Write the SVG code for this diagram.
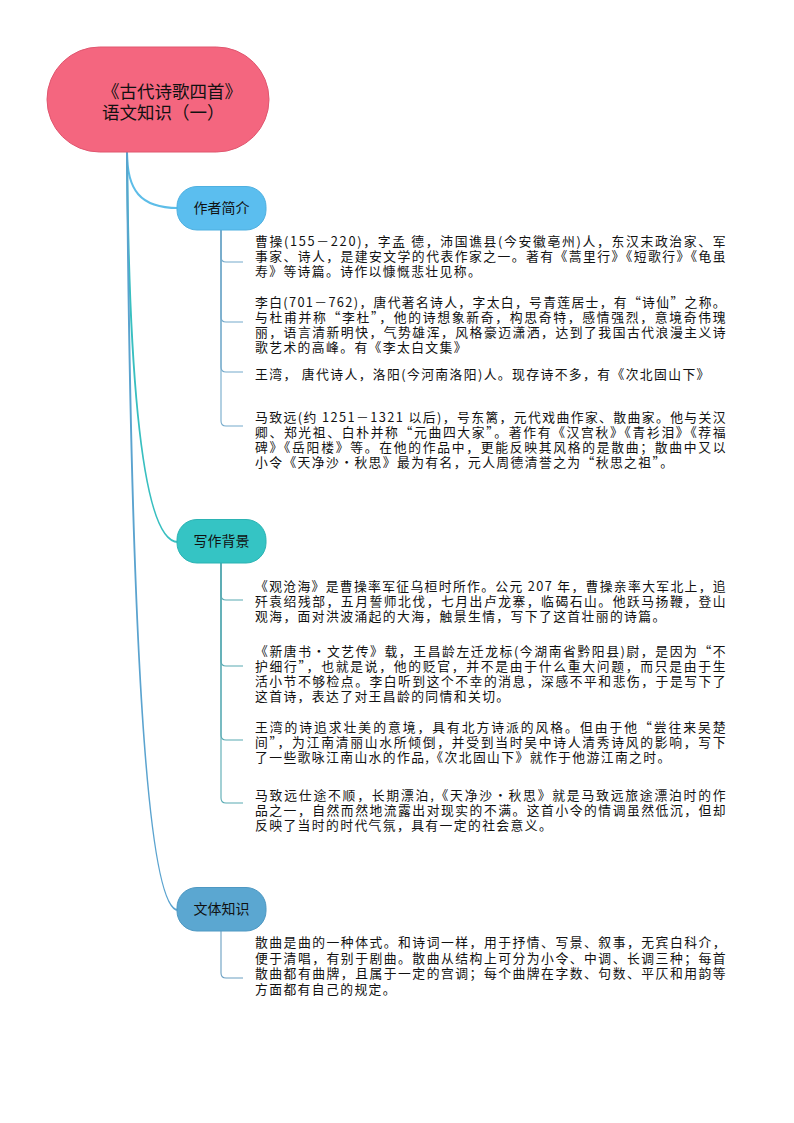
<svg xmlns="http://www.w3.org/2000/svg" width="794" height="1123" viewBox="0 0 794 1123">
<style>
.bg{fill:#ffffff}
.t{font-family:"Noto Sans CJK SC","Noto Sans",sans-serif;fill:#111111}
.root{font-size:17.5px}
.br{font-size:14px;text-anchor:middle}
.c{font-size:12.8px;letter-spacing:1.4px}
.main{fill:none;stroke-width:2;stroke-linecap:round}
.sub{fill:none;stroke-width:1.1}
</style>
<rect class="bg" x="0" y="0" width="794" height="1123"/>
<g id="connectors">
  <path class="main" stroke="#5DBDE8" d="M127,152 C127,190 140,208 178,208"/>
  <path class="main" stroke="#38BFC0" d="M127,152 Q130,542 178,542"/>
  <path class="main" stroke="#5AA3CF" d="M127,152 Q133,910 178,910"/>
  <g stroke="#74AACB">
    <path class="sub" d="M221,230 L221,257 Q221,262 226,262 L243,262"/>
    <path class="sub" d="M221,230 L221,317 Q221,322 226,322 L243,322"/>
    <path class="sub" d="M221,230 L221,367 Q221,372 226,372 L243,372"/>
    <path class="sub" d="M221,230 L221,421 Q221,426 226,426 L243,426"/>
  </g>
  <g stroke="#58AAB2">
    <path class="sub" d="M221,563 L221,595 Q221,600 226,600 L243,600"/>
    <path class="sub" d="M221,563 L221,661 Q221,666 226,666 L243,666"/>
    <path class="sub" d="M221,563 L221,735 Q221,740 226,740 L243,740"/>
    <path class="sub" d="M221,563 L221,798 Q221,803 226,803 L243,803"/>
  </g>
  <g stroke="#6A9FC2">
    <path class="sub" d="M221,931 L221,973 Q221,978 226,978 L243,978"/>
  </g>
</g>
<g id="root">
  <rect x="47" y="47" width="222" height="105" rx="52.5" fill="#F4667F" stroke="#E0566F" stroke-width="1"/>
  <text class="t root"><tspan x="102" y="98">《古代诗歌四首》</tspan><tspan x="102" y="119">语文知识（一）</tspan></text>
</g>
<g id="branch-author">
  <rect x="177" y="186.5" width="89" height="43.5" rx="20" fill="#5BBEEF" stroke="#4FB0E0" stroke-width="1"/>
  <text class="t br" x="221.5" y="213">作者简介</text>
</g>
<g id="branch-background">
  <rect x="177" y="519.5" width="89" height="43.5" rx="20" fill="#35C4C4" stroke="#2BB3B3" stroke-width="1"/>
  <text class="t br" x="221.5" y="546">写作背景</text>
</g>
<g id="branch-genre">
  <rect x="177" y="887.5" width="89" height="43.5" rx="20" fill="#5BA7D1" stroke="#4E98C2" stroke-width="1"/>
  <text class="t br" x="221.5" y="914">文体知识</text>
</g>
<g id="author-caocao">
  <text class="t c"><tspan x="255" y="246" textLength="472" lengthAdjust="spacing">曹操(155－220)，字孟 德，沛国谯县(今安徽亳州)人，东汉末政治家、军</tspan><tspan x="255" y="261" textLength="472" lengthAdjust="spacing">事家、诗人，是建安文学的代表作家之一。著有《蒿里行》《短歌行》《龟虽</tspan><tspan x="255" y="276">寿》等诗篇。诗作以慷慨悲壮见称。</tspan></text>
</g>
<g id="author-libai">
  <text class="t c"><tspan x="255" y="307" textLength="472" lengthAdjust="spacing">李白(701－762)，唐代著名诗人，字太白，号青莲居士，有“诗仙”之称。</tspan><tspan x="255" y="322" textLength="472" lengthAdjust="spacing">与杜甫并称“李杜”，他的诗想象新奇，构思奇特，感情强烈，意境奇伟瑰</tspan><tspan x="255" y="337" textLength="472" lengthAdjust="spacing">丽，语言清新明快，气势雄浑，风格豪迈潇洒，达到了我国古代浪漫主义诗</tspan><tspan x="255" y="352">歌艺术的高峰。有《李太白文集》</tspan></text>
</g>
<g id="author-wangwan">
  <text class="t c" x="255" y="379">王湾， 唐代诗人，洛阳(今河南洛阳)人。现存诗不多，有《次北固山下》</text>
</g>
<g id="author-mazhiyuan">
  <text class="t c"><tspan x="255" y="422" textLength="472" lengthAdjust="spacing">马致远(约 1251－1321 以后)，号东篱，元代戏曲作家、散曲家。他与关汉</tspan><tspan x="255" y="437" textLength="472" lengthAdjust="spacing">卿、郑光祖、白朴并称“元曲四大家”。著作有《汉宫秋》《青衫泪》《荐福</tspan><tspan x="255" y="452" textLength="472" lengthAdjust="spacing">碑》《岳阳楼》等。在他的作品中，更能反映其风格的是散曲；散曲中又以</tspan><tspan x="255" y="467">小令《天净沙・秋思》最为有名，元人周德清誉之为“秋思之祖”。</tspan></text>
</g>
<g id="bg-guancanghai">
  <text class="t c"><tspan x="255" y="591" textLength="472" lengthAdjust="spacing">《观沧海》是曹操率军征乌桓时所作。公元 207 年，曹操亲率大军北上，追</tspan><tspan x="255" y="606" textLength="472" lengthAdjust="spacing">歼袁绍残部，五月誓师北伐，七月出卢龙寨，临碣石山。他跃马扬鞭，登山</tspan><tspan x="255" y="621">观海，面对洪波涌起的大海，触景生情，写下了这首壮丽的诗篇。</tspan></text>
</g>
<g id="bg-wangchangling">
  <text class="t c"><tspan x="255" y="656" textLength="472" lengthAdjust="spacing">《新唐书・文艺传》载，王昌龄左迁龙标(今湖南省黔阳县)尉，是因为“不</tspan><tspan x="255" y="671" textLength="472" lengthAdjust="spacing">护细行”，也就是说，他的贬官，并不是由于什么重大问题，而只是由于生</tspan><tspan x="255" y="686" textLength="472" lengthAdjust="spacing">活小节不够检点。李白听到这个不幸的消息，深感不平和悲伤，于是写下了</tspan><tspan x="255" y="701">这首诗，表达了对王昌龄的同情和关切。</tspan></text>
</g>
<g id="bg-wangwan">
  <text class="t c"><tspan x="255" y="732" textLength="472" lengthAdjust="spacing">王湾的诗追求壮美的意境，具有北方诗派的风格。但由于他“尝往来吴楚</tspan><tspan x="255" y="747" textLength="472" lengthAdjust="spacing">间”，为江南清丽山水所倾倒，并受到当时吴中诗人清秀诗风的影响，写下</tspan><tspan x="255" y="762">了一些歌咏江南山水的作品,《次北固山下》就作于他游江南之时。</tspan></text>
</g>
<g id="bg-mazhiyuan">
  <text class="t c"><tspan x="255" y="800" textLength="472" lengthAdjust="spacing">马致远仕途不顺，长期漂泊,《天净沙・秋思》就是马致远旅途漂泊时的作</tspan><tspan x="255" y="815" textLength="472" lengthAdjust="spacing">品之一，自然而然地流露出对现实的不满。这首小令的情调虽然低沉，但却</tspan><tspan x="255" y="830">反映了当时的时代气氛，具有一定的社会意义。</tspan></text>
</g>
<g id="genre-sanqu">
  <text class="t c"><tspan x="255" y="947" textLength="472" lengthAdjust="spacing">散曲是曲的一种体式。和诗词一样，用于抒情、写景、叙事，无宾白科介，</tspan><tspan x="255" y="962.5" textLength="472" lengthAdjust="spacing">便于清唱，有别于剧曲。散曲从结构上可分为小令、中调、长调三种；每首</tspan><tspan x="255" y="978" textLength="472" lengthAdjust="spacing">散曲都有曲牌，且属于一定的宫调；每个曲牌在字数、句数、平仄和用韵等</tspan><tspan x="255" y="993.5">方面都有自己的规定。</tspan></text>
</g>
</svg>
